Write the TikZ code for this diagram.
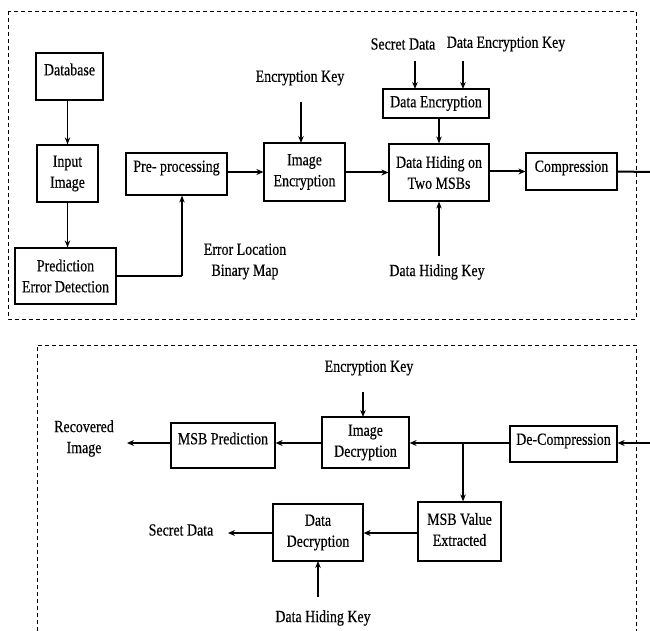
\documentclass[tikz,border=0pt]{standalone}
\usepackage{fontspec}
\setmainfont[FakeStretch=0.82,FakeBold=0.4]{Liberation Serif}
\usetikzlibrary{arrows.meta}
\newcommand{\upby}[2]{\raisebox{#1}[\height][\depth]{#2}}
\begin{document}
\begin{tikzpicture}[x=1pt,y=-1pt,
  font=\fontsize{17}{21}\selectfont,
  blk/.style={draw,line width=1.2pt,inner sep=0pt,align=center},
  lbl/.style={inner sep=0pt,align=center},
  arr/.style={line width=1.1pt,-{Stealth[length=7pt,width=5.5pt]}},
  tarr/.style={line width=2pt,-{Stealth[length=7pt,width=6pt]}},
  frame/.style={line width=0.9pt,dash pattern=on 4pt off 3pt}]
\useasboundingbox (0,0) rectangle (650,631);
% frames
\draw[frame] (8,11) rectangle (636,319);
\draw[frame] (37,631) -- (37,345) -- (636,345) -- (636,631);
% top nodes
\node[blk,minimum width=67,minimum height=47] (db) at (69.5,76.5) {\upby{7pt}{Database}};
\node[blk,minimum width=61,minimum height=57] (inp) at (67.5,173.5) {Input\\Image};
\node[blk,minimum width=101,minimum height=56] (pred) at (65.5,276) {Prediction\\Error Detection};
\node[blk,minimum width=101,minimum height=42] (pre) at (176.5,174) {\upby{6pt}{Pre- processing}};
\node[blk,minimum width=81,minimum height=58] (ienc) at (304.5,172) {Image\\Encryption};
\node[blk,minimum width=106,minimum height=29] (denc) at (436,103.5) {Data Encryption};
\node[blk,minimum width=100,minimum height=57] (hide) at (439,172.5) {Data Hiding on\\Two MSBs};
\node[blk,minimum width=91,minimum height=37] (comp) at (571.5,171.5) {\upby{3.5pt}{Compression}};
\node[lbl] (enckey) at (300,78) {Encryption Key};
\node[lbl] (secret) at (403,44) {Secret Data};
\node[lbl] (dekey) at (506,44) {Data Encryption Key};
\node[lbl] (hidekey) at (437,272) {Data Hiding Key};
\node[lbl] (errloc) at (245,261.5) {Error Location\\Binary Map};
\coordinate (k1) at (415,89);
\coordinate (k2) at (463,89);
\coordinate (k0) at (301,143);
\coordinate (bend) at (182,276);
\coordinate (outR) at (650,172);
% top connectors
\draw[arr] (db.south -| inp.north) -- (inp.north);
\draw[arr] (inp.south) -- (inp.south |- pred.north);
\draw[line width=1.1pt] (pred.east) -- (bend);
\draw[arr] (bend) -- (bend |- pre.south);
\draw[tarr] (pre.east |- ienc.west) -- (ienc.west);
\draw[arr] (k0 |- 0,102) -- (k0);
\draw[arr] (k1 |- 0,61) -- (k1);
\draw[arr] (k2 |- 0,61) -- (k2);
\draw[arr] (hide.north |- denc.south) -- (hide.north);
\draw[tarr] (ienc.east |- hide.west) -- (hide.west);
\draw[arr] (hide.south |- 0,256) -- (hide.south);
\draw[tarr] (hide.east |- comp.west) -- (comp.west);
\draw[line width=2pt] (comp.east) -- (outR);
% bottom nodes
\node[blk,minimum width=87,minimum height=51] (idec) at (365.5,442.5) {Image\\Decryption};
\node[blk,minimum width=107,minimum height=36] (dcomp) at (563.5,444) {\upby{3pt}{De-Compression}};
\node[blk,minimum width=83,minimum height=59] (msbv) at (459.5,531.5) {\upby{2pt}{MSB Value}\\\upby{2pt}{Extracted}};
\node[blk,minimum width=90,minimum height=57] (ddec) at (318,532.5) {Data\\Decryption};
\node[blk,minimum width=104,minimum height=45] (msbp) at (223,445.5) {\upby{7pt}{MSB Prediction}};
\node[lbl] (enckey2) at (369,368) {Encryption Key};
\node[lbl] (recov) at (84,438.5) {Recovered\\Image};
\node[lbl] (secret2) at (181,530) {Secret Data};
\node[lbl] (hidekey2) at (323,618) {Data Hiding Key};
\coordinate (inR) at (650,443);
\coordinate (br) at (463,443);
\coordinate (ek) at (363,417);
\coordinate (rl) at (127,443);
\coordinate (sl) at (228,533);
\coordinate (hk) at (318,561);
% bottom connectors
\draw[tarr] (inR) -- (dcomp.east |- inR);
\draw[tarr] (dcomp.west |- inR) -- (idec.east |- inR);
\draw[arr] (br) -- (br |- msbv.north);
\draw[arr] (ek |- 0,392) -- (ek);
\draw[tarr] (idec.west |- inR) -- (msbp.east |- inR);
\draw[tarr] (msbp.west |- inR) -- (rl);
\draw[tarr] (msbv.west |- sl) -- (ddec.east |- sl);
\draw[tarr] (ddec.west |- sl) -- (sl);
\draw[arr] (hk |- 0,597) -- (hk);
\end{tikzpicture}
\end{document}
